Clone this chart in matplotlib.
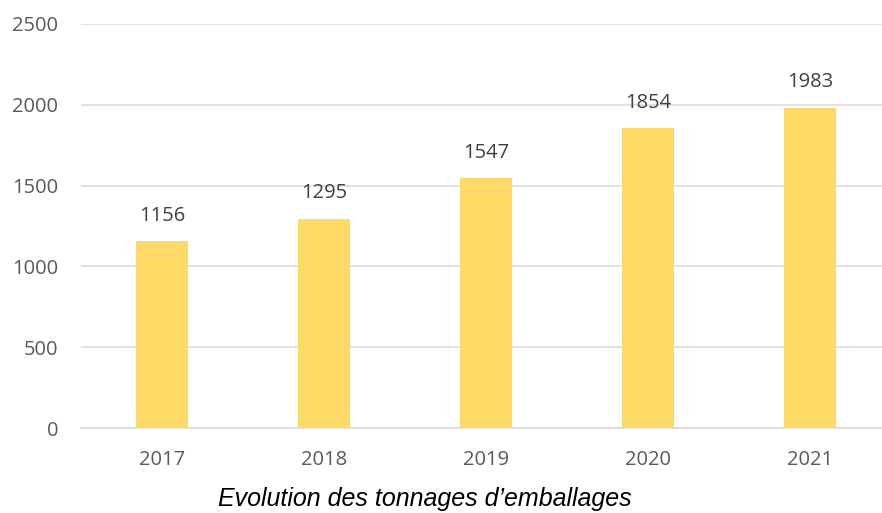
import matplotlib
matplotlib.use("Agg")
import matplotlib.pyplot as plt

years = ["2017", "2018", "2019", "2020", "2021"]
tonnages = [1156, 1295, 1547, 1854, 1983]
yticks = [0, 500, 1000, 1500, 2000, 2500]
title = "Evolution des tonnages d’emballages"

W, H = 882, 513
fig = plt.figure(figsize=(W / 100, H / 100), dpi=100)
ax = fig.add_axes([81 / W, (H - 428) / H, 810 / W, 404 / H])

x = list(range(len(years)))
ax.bar(x, tonnages, width=0.315, color="#FFD966", zorder=3)
for xi, v in zip(x, tonnages):
    ax.text(xi, v + 95, str(v), ha="center", va="bottom", fontsize=14.5,
            color="#404040", family="Open Sans")

ax.set_xlim(-0.5, len(years) - 0.5)
ax.set_ylim(0, 2500)
ax.set_yticks(yticks)
ax.set_xticks(x)
ax.set_xticklabels(years)
ax.yaxis.grid(True, color="#D9D9D9", linewidth=1.1, zorder=0)
for s in ["top", "right", "left"]:
    ax.spines[s].set_visible(False)
ax.spines["bottom"].set_color("#D9D9D9")
ax.spines["bottom"].set_linewidth(1.1)
ax.tick_params(length=0, labelsize=14.5, labelcolor="#595959")
for lab in ax.get_xticklabels() + ax.get_yticklabels():
    lab.set_family("Open Sans")
ax.tick_params(axis="x", pad=16)
ax.tick_params(axis="y", pad=16.5)

fig.text(425 / W, 1 - 506 / H, title, ha="center", va="baseline",
         fontsize=18, style="italic", family="Liberation Sans", color="black")

fig.savefig("out.png", dpi=100)
